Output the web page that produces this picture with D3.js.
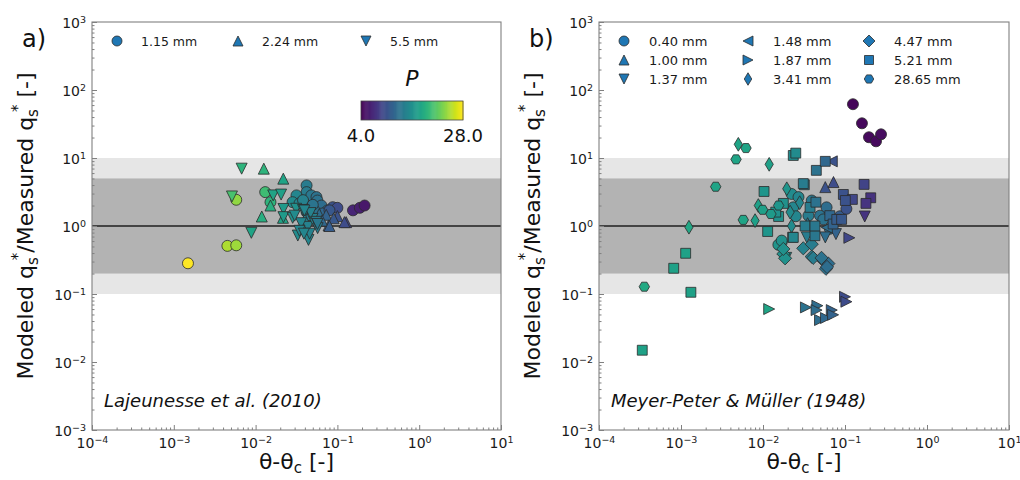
<!DOCTYPE html>
<html lang="en">
<head>
<meta charset="UTF-8">
<title>Modeled vs measured qs*</title>
<script src="https://cdn.jsdelivr.net/npm/d3@7"></script>
<style>
  body { margin: 0; background: #fff; }
  svg { display: block; font-family: "DejaVu Sans", sans-serif; }
</style>
</head>
<body>
<div id="chart"></div>
<script>
// ---- data : [theta - theta_c, modeled/measured qs*, P] ----
const lajCircles = [ // 1.15 mm
  [0.00149, 0.283, 28], [0.00452, 0.51, 25], [0.0058, 0.52, 24.5], [0.0058, 2.43, 24],
  [0.0131, 3.15, 20.5], [0.0152, 2.24, 19.5],
  [0.042, 3.95, 14], [0.042, 3.15, 14], [0.048, 2.82, 13.5], [0.0555, 2.66, 13], [0.057, 2.37, 13],
  [0.0316, 2.82, 15], [0.0283, 2.24, 15.5], [0.0344, 2.15, 15], [0.042, 1.89, 14], [0.0638, 2.0, 12.5],
  [0.0755, 1.69, 12], [0.0656, 1.53, 12], [0.0525, 1.69, 13], [0.042, 1.6, 14], [0.038, 2.4, 14.5],
  [0.05, 2.05, 13.2], [0.0877, 1.89, 10], [0.1, 1.85, 9.5], [0.08, 1.7, 10.5],
  [0.155, 1.7, 6.5], [0.188, 1.85, 6], [0.215, 2.0, 5.5]
];
const lajTriUp = [ // 2.24 mm
  [0.0126, 6.97, 19.5], [0.0218, 4.97, 18], [0.0119, 1.38, 19], [0.0152, 2.0, 19], [0.0216, 1.32, 18],
  [0.045, 1.45, 14], [0.052, 1.3, 13.5], [0.06, 1.5, 12.5], [0.073, 1.46, 11.5], [0.078, 1.02, 11],
  [0.1, 1.4, 10], [0.128, 1.14, 9], [0.122, 1.14, 9.5], [0.065, 1.2, 12], [0.09, 1.3, 10.5],
  [0.04, 1.25, 14.5], [0.08, 1.0, 11]
];
const lajTriDown = [ // 5.5 mm
  [0.00675, 6.97, 19.5], [0.00514, 2.72, 21], [0.00887, 0.794, 18], [0.0164, 2.82, 18],
  [0.0205, 2.9, 17.5], [0.0219, 1.78, 17], [0.0219, 1.35, 17],
  [0.0443, 0.625, 15], [0.0328, 0.724, 15.5], [0.038, 0.85, 15], [0.0573, 0.93, 14], [0.0435, 0.97, 14.5],
  [0.0284, 1.32, 16], [0.0313, 1.79, 16], [0.038, 1.72, 15.5], [0.0497, 1.27, 14.5], [0.036, 1.1, 15],
  [0.047, 1.55, 14.5], [0.055, 1.15, 14], [0.03, 1.42, 15.5], [0.0395, 1.69, 15], [0.0457, 0.77, 14.5],
  [0.0344, 0.85, 15], [0.057, 1.07, 13.5], [0.039, 0.77, 15]
];

const mpmCircles = [ // 0.40 mm
  [0.125, 61.8, 4.3], [0.161, 32.4, 4.5], [0.196, 20.2, 4.6], [0.239, 17.6, 4.6], [0.275, 22.3, 4.8],
  [0.0169, 0.577, 16.5], [0.0154, 0.53, 16.5], [0.0223, 2.96, 15.5], [0.0271, 2.66, 15], [0.0234, 1.88, 15],
  [0.0251, 1.39, 15], [0.0169, 0.61, 16], [0.0393, 2.37, 13.5], [0.0358, 1.42, 14], [0.0496, 1.42, 13],
  [0.0596, 1.88, 12.5], [0.0653, 0.91, 12.5], [0.0867, 1.39, 11], [0.104, 1.79, 10], [0.0544, 1.25, 13]
];
const mpmTriUp = [ // 1.00 mm
  [0.0575, 3.73, 10], [0.0724, 4.43, 9.5], [0.035, 1.1, 13.5]
];
const mpmTriDown = [ // 1.37 mm
  [0.174, 1.38, 7.5], [0.0192, 0.34, 15.5], [0.0342, 0.68, 14], [0.0575, 0.68, 12.5], [0.0775, 0.76, 11.5]
];
const mpmTriLeft = [ // 1.48 mm
  [0.069, 8.93, 10], [0.06, 0.95, 12.5]
];
const mpmTriRight = [ // 1.87 mm
  [0.0119, 0.0601, 18], [0.0334, 0.0635, 13], [0.046, 0.0673, 12.5], [0.045, 0.058, 12.5],
  [0.0496, 0.0414, 12.5], [0.0586, 0.0443, 12], [0.069, 0.058, 11.5], [0.0716, 0.0494, 11.5],
  [0.1, 0.091, 9.5], [0.104, 0.077, 9.5], [0.113, 0.67, 9]
];
const mpmThinDiamond = [ // 3.41 mm
  [0.005, 15.9, 18], [0.0119, 8.07, 17.5], [0.0195, 3.53, 16.5], [0.00877, 2.0, 17.5], [0.008, 1.2, 17.5],
  [0.00125, 0.96, 18.3], [0.0223, 1.0, 15.5], [0.0214, 1.6, 15.5], [0.028, 2.2, 15]
];
const mpmDiamond = [ // 4.47 mm
  [0.0177, 0.389, 16], [0.0186, 0.335, 16], [0.0393, 0.355, 14], [0.0544, 0.31, 13], [0.0586, 0.235, 13],
  [0.0627, 0.28, 12.5], [0.0177, 0.46, 16], [0.031, 0.47, 14.5], [0.0393, 0.54, 14], [0.041, 0.34, 14],
  [0.0517, 0.34, 13], [0.0604, 0.25, 12.5]
];
const mpmSquares = [ // 5.21 mm
  [0.00114, 0.397, 17.7], [0.000815, 0.239, 17.7], [0.00132, 0.106, 17.7], [0.000337, 0.0149, 17.7],
  [0.0103, 3.22, 16.5], [0.0234, 10.9, 15.5], [0.0251, 11.8, 15.5], [0.0447, 6.58, 13], [0.0575, 8.93, 12],
  [0.0319, 4.04, 14], [0.0955, 2.91, 10], [0.171, 4.09, 8.8], [0.206, 2.6, 7.4], [0.18, 2.15, 7.6],
  [0.123, 2.46, 9], [0.0114, 0.83, 16.5], [0.023, 0.684, 15], [0.043, 0.72, 13.5], [0.0155, 1.38, 16],
  [0.0143, 1.6, 16], [0.0177, 2.15, 16], [0.031, 4.2, 14], [0.0375, 1.88, 14], [0.0326, 1.0, 14],
  [0.043, 1.0, 13.5], [0.0653, 1.42, 12], [0.0716, 1.07, 11.5], [0.0794, 1.25, 11], [0.0909, 1.25, 10.5],
  [0.101, 2.37, 10], [0.0442, 2.24, 13], [0.0234, 0.68, 15]
];
const mpmHexagons = [ // 28.65 mm
  [0.0062, 14.0, 18], [0.00469, 9.55, 18], [0.00265, 3.78, 18], [0.0099, 1.73, 17.5], [0.00575, 1.23, 18],
  [0.000357, 0.128, 18.5], [0.0155, 2.0, 16.5], [0.0125, 1.5, 17]
];

const xTicks = [1e-4, 1e-3, 1e-2, 1e-1, 1e0, 1e1];
const yTicks = [1e-3, 1e-2, 1e-1, 1e0, 1e1, 1e2, 1e3];
const pRange = [4, 28];
const outerBand = [0.1, 10];
const innerBand = [0.2, 5];

const panelA = [
  { label: "1.15 mm", shape: "o", data: lajCircles },
  { label: "2.24 mm", shape: "^", data: lajTriUp },
  { label: "5.5 mm", shape: "v", data: lajTriDown }
];
const panelB = [
  { label: "0.40 mm", shape: "o", data: mpmCircles },
  { label: "1.00 mm", shape: "^", data: mpmTriUp },
  { label: "1.37 mm", shape: "v", data: mpmTriDown },
  { label: "1.48 mm", shape: "<", data: mpmTriLeft },
  { label: "1.87 mm", shape: ">", data: mpmTriRight },
  { label: "3.41 mm", shape: "d", data: mpmThinDiamond },
  { label: "4.47 mm", shape: "D", data: mpmDiamond },
  { label: "5.21 mm", shape: "s", data: mpmSquares },
  { label: "28.65 mm", shape: "h", data: mpmHexagons }
];

// ---- drawing ----
const width = 1020, height = 480;
const color = d3.scaleSequential(d3.interpolateViridis).domain(pRange);

function markerPath(shape, s) {
  switch (shape) {
    case "o": return `M${s},0A${s},${s} 0 1,1 ${-s},0A${s},${s} 0 1,1 ${s},0Z`;
    case "^": return `M0,${-s}L${s},${s}L${-s},${s}Z`;
    case "v": return `M0,${s}L${s},${-s}L${-s},${-s}Z`;
    case "<": return `M${-s},0L${s},${-s}L${s},${s}Z`;
    case ">": return `M${s},0L${-s},${-s}L${-s},${s}Z`;
    case "s": { const a = s * 0.9; return `M${-a},${-a}H${a}V${a}H${-a}Z`; }
    case "D": { const a = s * 1.2; return `M0,${-a}L${a},0L0,${a}L${-a},0Z`; }
    case "d": { const a = s * 1.25, b = s * 0.75; return `M0,${-a}L${b},0L0,${a}L${-b},0Z`; }
    case "h": {
      const r = s * 0.95;
      return d3.range(6).map((i, k) => {
        const ang = Math.PI / 3 * i;
        return (k ? "L" : "M") + (r * Math.cos(ang)).toFixed(2) + "," + (r * Math.sin(ang)).toFixed(2);
      }).join("") + "Z";
    }
  }
}

function pow10Label(sel, d) {
  const e = Math.round(Math.log10(d));
  sel.text(null);
  sel.append("tspan").text("10");
  sel.append("tspan").attr("dy", "-0.55em").attr("font-size", "9.5px")
    .text(e < 0 ? "\u2212" + (-e) : String(e));
}

const svg = d3.select("#chart").append("svg")
  .attr("width", width).attr("height", height)
  .attr("viewBox", [0, 0, width, height]);

function drawPanel(box, series, opts) {
  const x = d3.scaleLog().domain([1e-4, 1e1]).range([box.left, box.right]);
  const y = d3.scaleLog().domain([1e-3, 1e3]).range([box.bottom, box.top]);
  const g = svg.append("g");

  // bands
  g.append("rect").attr("x", box.left).attr("width", box.right - box.left)
    .attr("y", y(outerBand[1])).attr("height", y(outerBand[0]) - y(outerBand[1]))
    .attr("fill", "#e6e6e6");
  g.append("rect").attr("x", box.left).attr("width", box.right - box.left)
    .attr("y", y(innerBand[1])).attr("height", y(innerBand[0]) - y(innerBand[1]))
    .attr("fill", "#b3b3b3");
  g.append("line").attr("x1", box.left).attr("x2", box.right)
    .attr("y1", y(1)).attr("y2", y(1))
    .attr("stroke", "#444").attr("stroke-width", 1.8);

  // minor ticks
  const minorX = [], minorY = [];
  xTicks.slice(0, -1).forEach(t => d3.range(2, 10).forEach(k => minorX.push(t * k)));
  yTicks.slice(0, -1).forEach(t => d3.range(2, 10).forEach(k => minorY.push(t * k)));

  const styleAxis = a => {
    a.select(".domain").remove();
    a.selectAll(".tick line").attr("stroke", "#808080");
    a.selectAll(".tick text").attr("fill", "#1a1a1a").attr("font-size", "14px")
      .attr("font-family", "DejaVu Sans, sans-serif");
  };
  g.append("g").attr("transform", `translate(0,${box.bottom})`)
    .call(d3.axisBottom(x).tickValues(minorX).tickSize(-2.5).tickFormat(""))
    .call(styleAxis);
  g.append("g").attr("transform", `translate(${box.left},0)`)
    .call(d3.axisLeft(y).tickValues(minorY).tickSize(-2.5).tickFormat(""))
    .call(styleAxis);
  g.append("g").attr("transform", `translate(0,${box.bottom})`)
    .call(d3.axisBottom(x).tickValues(xTicks).tickSize(-5).tickPadding(4).tickFormat(""))
    .call(styleAxis)
    .call(a => a.selectAll(".tick text").attr("dy", "1em").each(function (d) { pow10Label(d3.select(this), d); }));
  g.append("g").attr("transform", `translate(${box.left},0)`)
    .call(d3.axisLeft(y).tickValues(yTicks).tickSize(-5).tickPadding(6).tickFormat(""))
    .call(styleAxis)
    .call(a => a.selectAll(".tick text").attr("dy", "0.4em").each(function (d) { pow10Label(d3.select(this), d); }));

  // points
  series.forEach(s => {
    g.append("g").selectAll("path").data(s.data).join("path")
      .attr("transform", d => `translate(${x(d[0])},${y(d[1])})`)
      .attr("d", markerPath(s.shape, 5.5))
      .attr("fill", d => color(d[2]))
      .attr("stroke", "#2b2b2b").attr("stroke-width", 0.8);
  });

  // frame
  g.append("rect").attr("x", box.left).attr("y", box.top)
    .attr("width", box.right - box.left).attr("height", box.bottom - box.top)
    .attr("fill", "none").attr("stroke", "#808080").attr("stroke-width", 1.1);

  // legend
  series.forEach((s, i) => {
    const lx = opts.legendX[Math.floor(i / opts.legendRows)];
    const ly = opts.legendY[i % opts.legendRows];
    g.append("path").attr("transform", `translate(${lx},${ly})`)
      .attr("d", markerPath(s.shape, 5))
      .attr("fill", "#1f77b4").attr("stroke", "#2b2b2b").attr("stroke-width", 0.8);
    g.append("text").attr("x", lx + opts.legendGap).attr("y", ly).attr("dy", "0.36em")
      .attr("font-size", opts.legendFont).attr("fill", "#1a1a1a").text(s.label);
  });

  // panel letter, source note
  g.append("text").attr("x", opts.letterX).attr("y", 47).attr("font-size", "24px")
    .attr("fill", "#111").text(opts.letter);
  g.append("text").attr("x", box.left + 12).attr("y", 407).attr("font-size", "18px")
    .attr("font-style", "italic").attr("fill", "#111").text(opts.note);

  // axis titles
  const yl = g.append("text")
    .attr("transform", `translate(${opts.ylabX},${(box.top + box.bottom) / 2}) rotate(-90)`)
    .attr("text-anchor", "middle").attr("font-size", "22px").attr("fill", "#111");
  yl.append("tspan").text("Modeled q");
  yl.append("tspan").attr("font-size", "15px").attr("dy", "0.3em").text("s");
  yl.append("tspan").attr("font-size", "15px").attr("dy", "-0.95em").attr("dx", "-3").text("*");
  yl.append("tspan").attr("dy", "0.45em").text("/Measured q");
  yl.append("tspan").attr("font-size", "15px").attr("dy", "0.3em").text("s");
  yl.append("tspan").attr("font-size", "15px").attr("dy", "-0.95em").attr("dx", "-3").text("*");
  yl.append("tspan").attr("dy", "0.45em").text(" [-]");

  const xl = g.append("text").attr("x", (box.left + box.right) / 2).attr("y", 469)
    .attr("text-anchor", "middle").attr("font-size", "22px").attr("fill", "#111");
  xl.append("tspan").text("\u03b8-\u03b8");
  xl.append("tspan").attr("font-size", "15px").attr("dy", "0.25em").text("c");
  xl.append("tspan").attr("dy", "-0.17em").text(" [-]");

  return { x, y };
}

drawPanel({ left: 92, right: 501, top: 22, bottom: 430 }, panelA, {
  legendX: [117, 238, 366], legendY: [41], legendRows: 1, legendGap: 24, legendFont: "12.5px",
  letter: "a)", letterX: 22, note: "Lajeunesse et al. (2010)", ylabX: 33
});
drawPanel({ left: 599, right: 1009, top: 22, bottom: 430 }, panelB, {
  legendX: [624, 748, 869], legendY: [41, 60, 79], legendRows: 3, legendGap: 25, legendFont: "13px",
  letter: "b)", letterX: 529, note: "Meyer-Peter & M\u00fcller (1948)", ylabX: 540
});

// colorbar for P (panel a)
const cb = { left: 361, right: 463, top: 101, bottom: 120 };
const cbx = d3.scaleLinear().domain(pRange).range([cb.left, cb.right]);
const cbSteps = d3.range(pRange[0], pRange[1], 0.25);
const cbg = svg.append("g");
cbg.selectAll("rect").data(cbSteps).join("rect")
  .attr("x", d => cbx(d)).attr("y", cb.top)
  .attr("width", cbx(0.25) - cbx(0) + 0.5).attr("height", cb.bottom - cb.top)
  .attr("fill", d => color(d + 0.125));
cbg.append("rect").attr("x", cb.left).attr("y", cb.top)
  .attr("width", cb.right - cb.left).attr("height", cb.bottom - cb.top)
  .attr("fill", "none").attr("stroke", "#444").attr("stroke-width", 0.8);
cbg.selectAll("text.lab").data(pRange).join("text").attr("class", "lab")
  .attr("x", d => cbx(d)).attr("y", 142).attr("text-anchor", "middle")
  .attr("font-size", "18px").attr("fill", "#111").text(d => d.toFixed(1));
cbg.append("text").attr("x", (cb.left + cb.right) / 2).attr("y", 86)
  .attr("text-anchor", "middle").attr("font-size", "22px").attr("font-style", "italic")
  .attr("fill", "#111").text("P");
</script>
</body>
</html>
